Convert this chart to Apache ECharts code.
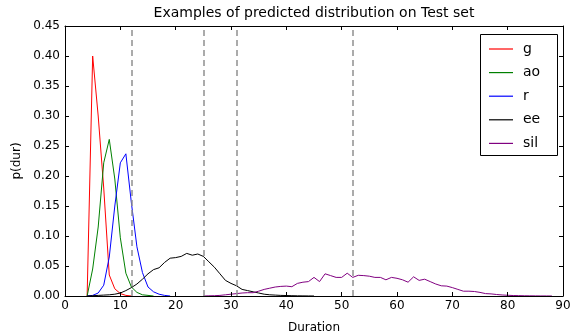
<!DOCTYPE html>
<html>
<head>
<meta charset="utf-8">
<script src="https://cdn.jsdelivr.net/npm/echarts@6/dist/echarts.min.js"></script>
<style>html,body{margin:0;padding:0;background:#fff;}#c{width:580px;height:333px;}</style>
</head>
<body>
<div id="c"></div>
<script>
// Series names and colours
var seriesNames = ['g', 'ao', 'r', 'ee', 'sil'];
// First duration of each value list (values are per integer duration)
var gStart = 4;
var gValues = [0, 0.40, 0.30, 0.18, 0.035, 0.012, 0.004, 0.001, 0];
var aoStart = 4;
var aoValues = [0, 0.045, 0.115, 0.222, 0.261, 0.195, 0.097, 0.038, 0.015, 0.006, 0.002, 0.001, 0];
var rStart = 4;
var rValues = [0, 0.001, 0.005, 0.018, 0.065, 0.15, 0.222, 0.237, 0.155, 0.082, 0.039, 0.015, 0.007, 0.003, 0.001, 0];
var eeStart = 4;
var eeValues = [0, 0.0005, 0.001, 0.0015, 0.002, 0.003, 0.005, 0.009, 0.014, 0.02, 0.028, 0.037, 0.044, 0.047, 0.056, 0.063, 0.064, 0.066, 0.071, 0.068, 0.070, 0.066, 0.057, 0.048, 0.037, 0.026, 0.021, 0.017, 0.011, 0.009, 0.007, 0.005, 0.003, 0.002, 0.0015, 0.001, 0.0008, 0.0005, 0.0003, 0.0002, 0.0001, 0];
var silStart = 25;
var silValues = [0, 0.0003, 0.0005, 0.001, 0.002, 0.003, 0.004, 0.005, 0.0055, 0.0055, 0.008, 0.011, 0.013, 0.015, 0.016, 0.0165, 0.0155, 0.021, 0.023, 0.024, 0.031, 0.024, 0.037, 0.034, 0.031, 0.031, 0.038, 0.031, 0.0345, 0.034, 0.033, 0.031, 0.031, 0.027, 0.031, 0.0295, 0.027, 0.023, 0.032, 0.026, 0.028, 0.024, 0.02, 0.017, 0.0165, 0.014, 0.011, 0.008, 0.008, 0.0075, 0.006, 0.004, 0.0035, 0.0025, 0.0017, 0.0012, 0.0008, 0.0006, 0.0004, 0.0003, 0.0002, 0.0001, 0.0001, 0];
// Segment boundaries (dashed vertical lines)
var boundaries = [12, 25, 31, 52];
// Axis ranges
var xMin = 0, xMax = 90, xStep = 10;
var yMin = 0, yMax = 0.45, yStep = 0.05;

var colors = ['#ff0000', '#008000', '#0000ff', '#000000', '#800080'];
var starts = [gStart, aoStart, rStart, eeStart, silStart];
var valueLists = [gValues, aoValues, rValues, eeValues, silValues];

function pairs(start, vals) {
  return vals.map(function (v, i) { return [start + i, v]; });
}

var FONT = 'DejaVu Sans';
var series = seriesNames.map(function (n, k) {
  return {
    name: n, type: 'line', xAxisIndex: 0, yAxisIndex: 0,
    data: pairs(starts[k], valueLists[k]),
    symbol: 'none', showSymbol: false,
    lineStyle: { color: colors[k], width: 1 },
    itemStyle: { color: colors[k] },
    emphasis: { disabled: true }, animation: false, z: 3
  };
});
series.push({
  type: 'line', data: [], xAxisIndex: 0, yAxisIndex: 0, animation: false,
  markLine: {
    silent: true, symbol: ['none', 'none'], label: { show: false },
    lineStyle: { color: '#909090', type: [6, 4], width: 1.5 },
    data: boundaries.map(function (b) { return { xAxis: b }; })
  },
  z: 2
});

var axisBase = {
  axisLine: { show: true, onZero: false, lineStyle: { color: '#000', width: 1 } },
  axisTick: { show: true, inside: true, length: 4, lineStyle: { color: '#000' } },
  splitLine: { show: false }
};

var option = {
  animation: false,
  backgroundColor: '#fff',
  title: {
    text: 'Examples of predicted distribution on Test set',
    left: 314, top: 6, textAlign: 'center', padding: 0,
    textStyle: { fontFamily: FONT, fontSize: 14, fontWeight: 'normal', color: '#000' }
  },
  grid: { left: 65, top: 26, right: 17, bottom: 37, containLabel: false, outerBoundsMode: 'none' },
  legend: {
    orient: 'vertical', left: 489, top: 40.5, padding: 0,
    icon: 'rect', itemWidth: 24, itemHeight: 1.2, itemGap: 6.6,
    data: seriesNames,
    textStyle: { fontFamily: FONT, fontSize: 14, color: '#000', padding: [0, 0, 0, 5], lineHeight: 17 }
  },
  graphic: [{
    type: 'rect', left: 478, top: 32, z: 100, silent: true,
    shape: { width: 77, height: 121 },
    style: { fill: 'none', stroke: '#000', lineWidth: 1 }
  }],
  xAxis: [
    Object.assign({}, axisBase, {
      type: 'value', min: xMin, max: xMax, interval: xStep, position: 'bottom', z: 5,
      name: 'Duration', nameLocation: 'middle', nameGap: 26,
      nameTextStyle: { fontFamily: FONT, fontSize: 12, color: '#000' },
      axisLabel: { fontFamily: FONT, fontSize: 12, color: '#000', margin: 4 }
    }),
    Object.assign({}, axisBase, {
      type: 'value', min: xMin, max: xMax, interval: xStep, position: 'top', z: 5,
      axisLabel: { show: false }
    })
  ],
  yAxis: [
    Object.assign({}, axisBase, {
      type: 'value', min: yMin, max: yMax, interval: yStep, position: 'left', z: 5,
      name: 'p(dur)', nameLocation: 'middle', nameGap: 36,
      nameTextStyle: { fontFamily: FONT, fontSize: 12, color: '#000' },
      axisLabel: { fontFamily: FONT, fontSize: 12, color: '#000', margin: 5,
        formatter: function (v) { return v.toFixed(2); } }
    }),
    Object.assign({}, axisBase, {
      type: 'value', min: yMin, max: yMax, interval: yStep, position: 'right', z: 5,
      axisLabel: { show: false }
    })
  ],
  series: series
};

var chart = echarts.init(document.getElementById('c'), null, { renderer: 'canvas' });
chart.setOption(option);
</script>
</body>
</html>
